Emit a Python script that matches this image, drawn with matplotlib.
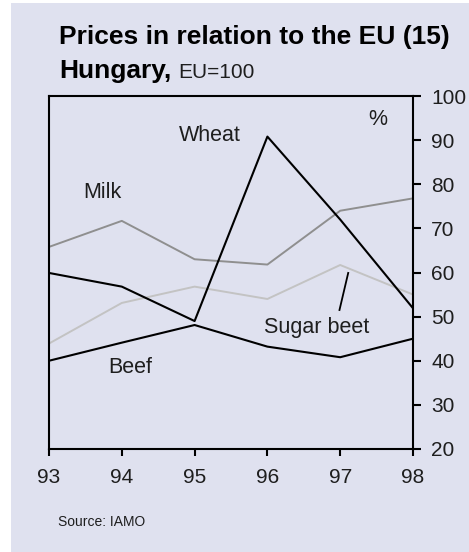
import matplotlib.pyplot as plt
from matplotlib.patches import Rectangle

# price levels, EU = 100
years = [93, 94, 95, 96, 97, 98]
wheat = [59.9, 56.8, 49.0, 90.8, 72.0, 51.9]
milk = [65.8, 71.7, 63.0, 61.8, 74.0, 76.8]
sugar_beet = [43.9, 53.1, 56.8, 54.0, 61.7, 55.0]
beef = [40.0, 44.1, 48.1, 43.2, 40.8, 45.0]

y_ticks = [20, 30, 40, 50, 60, 70, 80, 90, 100]
x_labels = ["93", "94", "95", "96", "97", "98"]

bg = "#dfe1ef"
font = "Liberation Sans"
ink = "#1e1e1e"

fig = plt.figure(figsize=(4.69, 5.52), dpi=100)
fig.patch.set_facecolor("white")
panel = Rectangle((11 / 469, 0), 1 - 11 / 469, 1 - 3 / 552,
                  transform=fig.transFigure, facecolor=bg,
                  edgecolor="none", zorder=-1)
fig.add_artist(panel)

ax = fig.add_axes([49 / 469, 103 / 552, 364 / 469, 353 / 552])
ax.set_zorder(1)
ax.set_facecolor(bg)

ax.plot(years, milk, color="#8f8f8f", lw=1.4, zorder=2)
ax.plot(years, sugar_beet, color="#c3c3c3", lw=1.4, zorder=2)
ax.plot(years, wheat, color="black", lw=1.5, zorder=3)
ax.plot(years, beef, color="black", lw=1.5, zorder=3)

# series labels
lab = dict(fontsize=15.5, family=font, color=ink, ha="center", va="center")
ax.text(95.21, 91.0, "Wheat", **lab)
ax.text(93.74, 78.1, "Milk", **lab)
ax.text(96.68, 47.5, "Sugar beet", **lab)
ax.text(94.12, 38.5, "Beef", **lab)
ax.text(97.52, 94.6, "%", **lab)
ax.plot([97.11, 96.99], [59.9, 51.5], color="black", lw=1.3)

ax.set_xlim(93, 98)
ax.set_ylim(20, 100)
ax.set_xticks(years)
ax.set_xticklabels(x_labels)
ax.set_yticks(y_ticks)
ax.yaxis.tick_right()
ax.tick_params(axis="y", direction="out", length=6, width=1.5, pad=7,
               labelsize=15, labelcolor=ink)
ax.tick_params(axis="x", direction="out", length=5, width=1.5, pad=9,
               labelsize=15, labelcolor=ink)
for lbl in ax.get_xticklabels() + ax.get_yticklabels():
    lbl.set_family(font)
for s in ax.spines.values():
    s.set_linewidth(1.5)

fig.text(59 / 469, 1 - 44 / 552, "Prices in relation to the EU (15)",
         fontsize=19, fontweight="bold", family=font, va="baseline")
fig.text(59 / 469, 1 - 78 / 552, "Hungary,", fontsize=19,
         fontweight="bold", family=font, va="baseline")
fig.text(178 / 469, 1 - 78 / 552, "EU=100", fontsize=15, family=font,
         va="baseline", color=ink)
fig.text(58 / 469, 1 - 526 / 552, "Source: IAMO", fontsize=10, family=font,
         va="baseline", color=ink)

fig.savefig("out.png", dpi=100)
